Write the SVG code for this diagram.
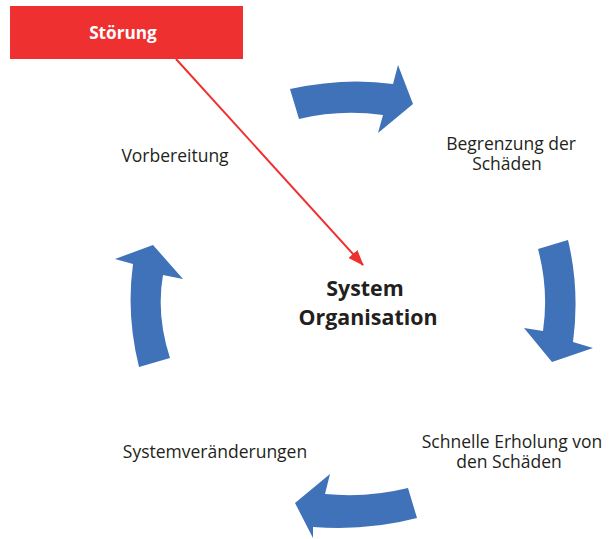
<svg xmlns="http://www.w3.org/2000/svg" width="610" height="539" viewBox="0 0 610 539">
  <defs>
    <style>
      .cyc { fill: #3F72B9; }
      .lbl { font-family: "Open Sans", "Noto Sans", "DejaVu Sans", sans-serif; font-size: 17.5px; fill: #231F20; text-anchor: middle; }
      .core { font-family: "Open Sans", "Noto Sans", "DejaVu Sans", sans-serif; font-size: 21.4px; font-weight: bold; fill: #231F20; text-anchor: middle; }
      .hit { font-family: "Open Sans", "Noto Sans", "DejaVu Sans", sans-serif; font-size: 17.2px; font-weight: bold; fill: #FFFFFF; text-anchor: middle; }
    </style>
    <marker id="redHead" viewBox="0 0 16 12" refX="15" refY="6" markerWidth="16" markerHeight="12" markerUnits="userSpaceOnUse" orient="auto">
      <path d="M0,0 L16,6 L0,12 Z" fill="#EE3030"/>
    </marker>
  </defs>
  <rect width="610" height="539" fill="#FFFFFF"/>

  <!-- cycle arrows -->
  <g id="arrow-top">
    <path class="cyc" d="M290,89 Q345,77 393,84 L398,65 L413,104 L378,133 L383,115 Q340,109 299,119 Z"/>
  </g>
  <g id="arrow-right">
    <path class="cyc" d="M538,249 L568,240 Q580,290 573,342 L593,348 L552,362 L524,328 L543,331 Q549,290 538,249 Z"/>
  </g>
  <g id="arrow-bottom">
    <path class="cyc" d="M408,488 L417,518 Q368,531 313,527 L313,538 L295,503 L330,474 L325,494 Q368,498 408,488 Z"/>
  </g>
  <g id="arrow-left">
    <path class="cyc" d="M139,367 Q126,315 133,264 L115,259 L153,245 L183,279 L163,275 Q156,315 170,358 Z"/>
  </g>

  <!-- disturbance box -->
  <g id="stoerung">
    <rect x="10" y="6" width="233" height="53" fill="#EE3030"/>
    <text class="hit" x="123" y="39">Störung</text>
  </g>

  <!-- centre -->
  <g id="system">
    <text class="core" x="365" y="296">System<tspan x="368" dy="29">Organisation</tspan></text>
  </g>

  <!-- phase labels -->
  <g id="begrenzung">
    <text class="lbl" x="511" y="150">Begrenzung der<tspan x="507" dy="20">Schäden</tspan></text>
  </g>
  <g id="erholung">
    <text class="lbl" x="512" y="448">Schnelle Erholung von<tspan x="509" dy="20">den Schäden</tspan></text>
  </g>
  <g id="veraenderungen">
    <text class="lbl" x="215" y="458">Systemveränderungen</text>
  </g>
  <g id="vorbereitung">
    <text class="lbl" x="175" y="162">Vorbereitung</text>
  </g>

  <!-- connector -->
  <g id="connectors">
    <line x1="176" y1="59" x2="363" y2="265" stroke="#EE3030" stroke-width="2" marker-end="url(#redHead)"/>
  </g>
</svg>
